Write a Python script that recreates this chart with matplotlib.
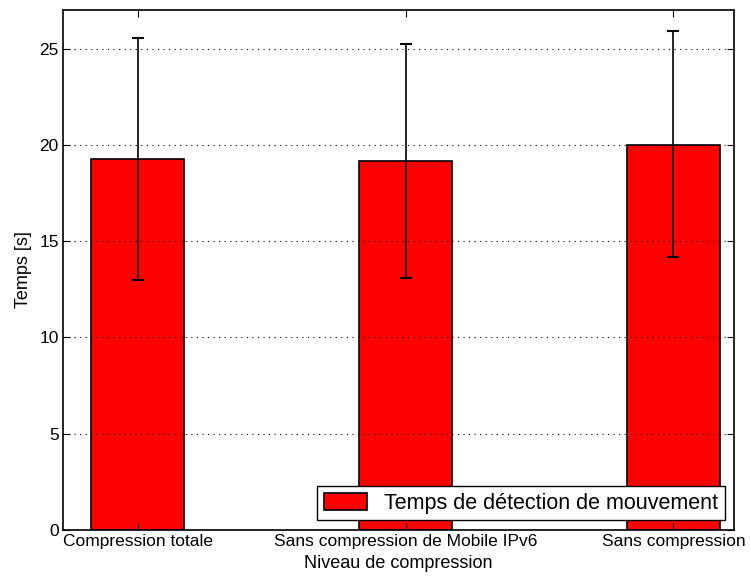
import matplotlib.pyplot as plt
import numpy as np

plt.rcParams['font.family'] = ['Liberation Sans', 'DejaVu Sans']

niveaux = ["Compression totale", "Sans compression de Mobile IPv6", "Sans compression"]
temps_moyen = [19.28, 19.14, 20.0]
err_haut = [25.57, 25.21, 25.9]
err_bas = [12.99, 13.07, 14.16]

x = np.arange(1, len(niveaux) + 1)
moy = np.array(temps_moyen)
yerr = [moy - np.array(err_bas), np.array(err_haut) - moy]

fig = plt.figure(figsize=(7.51, 5.79), dpi=100)
ax = fig.add_axes([0.0839, 0.0846, 0.8939, 0.8981])

ax.bar(x, moy, width=0.35, color="red", edgecolor="black", linewidth=1.2,
       label="Temps de détection de mouvement", zorder=2)
ax.errorbar(x, moy, yerr=yerr, fmt="none", ecolor="black", elinewidth=1.2,
            capsize=4, capthick=1.5, zorder=3)

ax.set_xlim(0.722, 3.227)
ax.set_ylim(0, 27)
ax.set_yticks([0, 5, 10, 15, 20, 25])
ax.set_xticks(x)
ax.set_xticklabels(niveaux)
ax.tick_params(direction="in", top=True, right=True, labelsize=12.5,
               length=5, width=0.8, pad=3)
ax.yaxis.grid(True, linestyle=(0, (1, 4)), color="black", linewidth=0.8)
ax.set_axisbelow(False)
for s in ax.spines.values():
    s.set_linewidth(1.2)
    s.set_zorder(4)

ax.set_xlabel("Niveau de compression", fontsize=13, labelpad=4)
ax.set_ylabel("Temps [s]", fontsize=13, labelpad=5)

leg = ax.legend(loc="lower right", fontsize=15.5, fancybox=False,
                edgecolor="black", framealpha=1, borderaxespad=0.45,
                handlelength=2.0, handleheight=0.9, borderpad=0.3)
leg.get_frame().set_linewidth(1.0)

fig.savefig("out.png", dpi=100)
